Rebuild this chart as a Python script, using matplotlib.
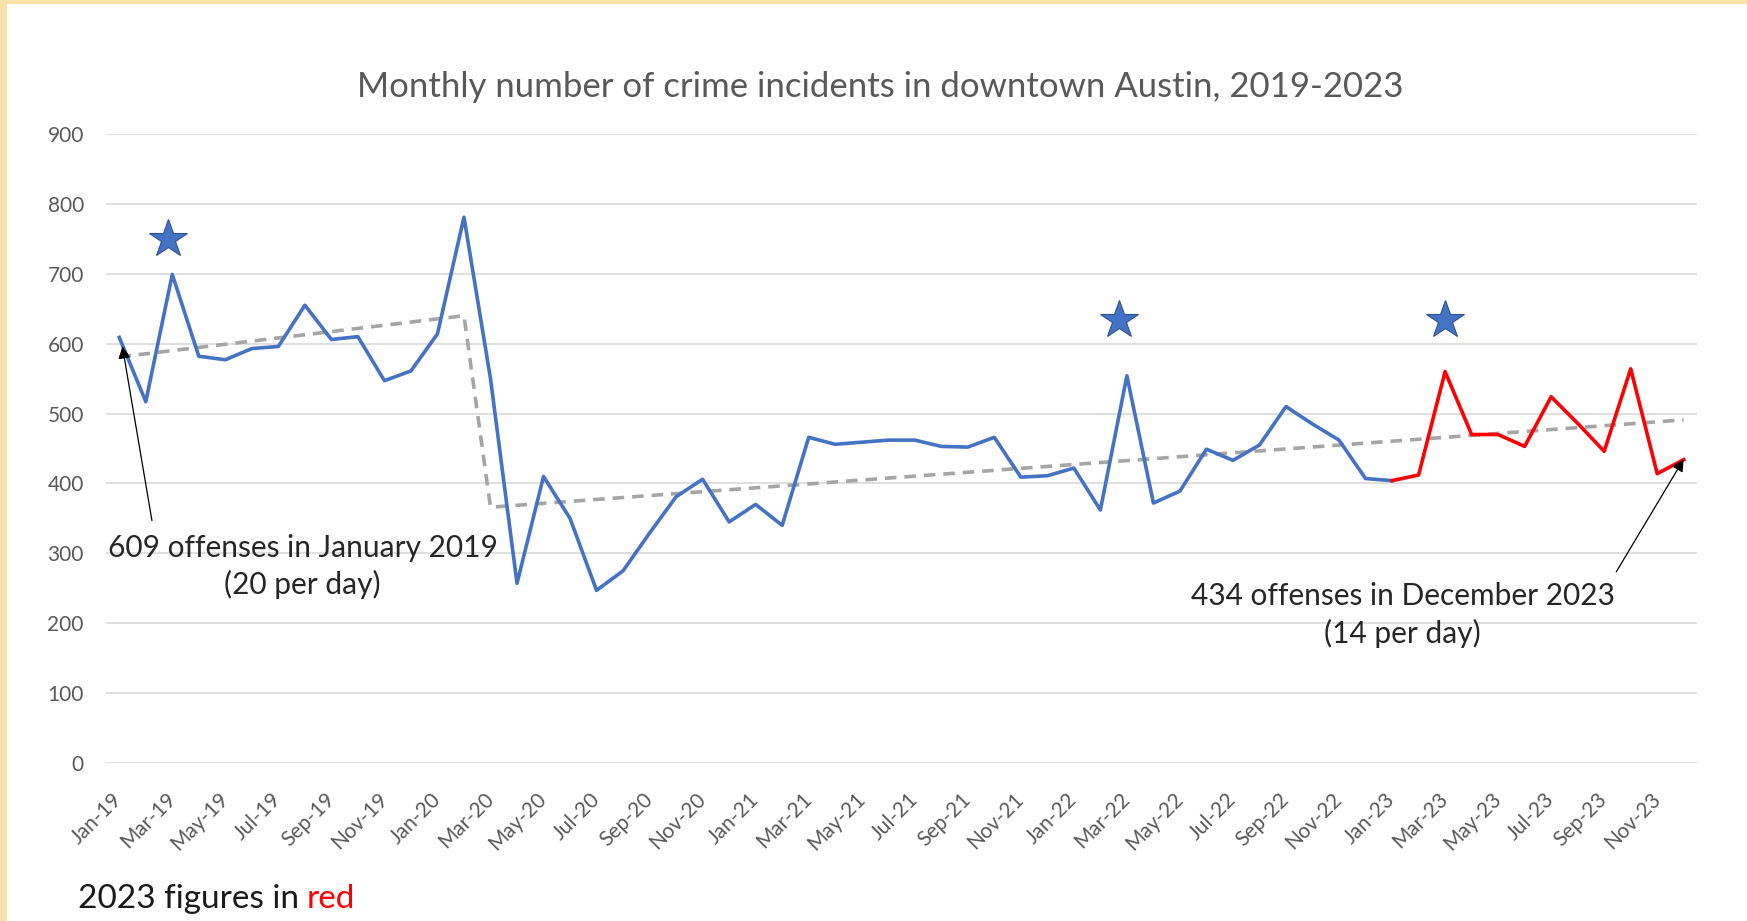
import numpy as np
import matplotlib.pyplot as plt

plt.rcParams['font.family'] = ['Lato', 'DejaVu Sans']

# monthly incident counts, Jan-2019 .. Dec-2023
counts = [609, 517, 699, 582, 577, 593, 596, 655, 606, 610, 547, 561,
          614, 781, 550, 257, 410, 350, 247, 275, 329, 381, 406, 345,
          370, 340, 466, 456, 459, 462, 462, 453, 452, 466, 409, 411,
          422, 362, 554, 372, 389, 449, 433, 455, 510, 485, 462, 407,
          404, 412, 560, 470, 470, 453, 524, 486, 446, 564, 414, 434]

months = ['Jan', 'Feb', 'Mar', 'Apr', 'May', 'Jun',
          'Jul', 'Aug', 'Sep', 'Oct', 'Nov', 'Dec']
years = ['19', '20', '21', '22', '23']
labels = [f"{m}-{y}" for y in years for m in months]

# piecewise trend line (index, value)
trend_x = [0, 13, 14, 59]
trend_y = [581, 640, 366, 491]

# stars
star_x = [1.85, 37.7, 50.0]
star_y = [750, 634, 634]

blue = '#4472C4'
red = '#FF0000'
grey_txt = '#595959'
frame = '#F8E2A8'

x = np.arange(len(counts))
red_start = 48

fig = plt.figure(figsize=(17.47, 9.21), dpi=100)
fig.patch.set_facecolor('white')
# yellow frame strips (left and top)
fig.add_artist(plt.Rectangle((0, 0), 7 / 1747, 1, transform=fig.transFigure,
                             facecolor=frame, edgecolor='none'))
fig.add_artist(plt.Rectangle((0, 1 - 4 / 921), 1, 4 / 921, transform=fig.transFigure,
                             facecolor=frame, edgecolor='none'))

ax = fig.add_axes([106 / 1747, 1 - 763 / 921, 1591 / 1747, 629 / 921])
ax.set_facecolor('none')

ax.plot(trend_x, trend_y, color='#A5A5A5', lw=2.6, ls=(0, (3.2, 2.2)), zorder=2)
ax.plot(x[:red_start + 1], counts[:red_start + 1], color=blue, lw=2.6, zorder=3)
ax.plot(x[red_start:], counts[red_start:], color=red, lw=2.6, zorder=3)
ax.plot(star_x, star_y, ls='none', marker='*', ms=29, color=blue,
        markeredgecolor='#2F528F', markeredgewidth=0.8, zorder=4)

ax.set_xlim(-0.5, len(counts) - 0.5)
ax.set_ylim(0, 900)
ax.set_yticks(range(0, 901, 100))
ax.yaxis.grid(True, color='#D9D9D9', lw=1.2)
ax.set_axisbelow(True)
for s in ax.spines.values():
    s.set_visible(False)

ax.set_xticks(x[::2])
ax.set_xticklabels(labels[::2], rotation=45, ha='right', va='center',
                   rotation_mode='anchor', fontsize=15, color=grey_txt)
ax.tick_params(axis='x', length=0, pad=24)
ax.tick_params(axis='y', length=0, pad=16, labelsize=15, labelcolor=grey_txt)

fig.text(880 / 1747, 1 - 87 / 921,
         'Monthly number of crime incidents in downtown Austin, 2019-2023',
         ha='center', va='center', fontsize=25, color=grey_txt)

ax.annotate('', xy=(0.1, 600), xytext=(1.25, 343),
            arrowprops=dict(arrowstyle='-|>', color='black', lw=0.9,
                            mutation_scale=18))
ax.text(6.92, 281, '609 offenses in January 2019\n(20 per day)',
        ha='center', va='center', fontsize=21.5, color='#262626',
        linespacing=1.35)

ax.annotate('', xy=(59.05, 438), xytext=(56.4, 270),
            arrowprops=dict(arrowstyle='-|>', color='black', lw=0.9,
                            mutation_scale=18))
ax.text(48.4, 212, '434 offenses in December 2023\n(14 per day)',
        ha='center', va='center', fontsize=21.5, color='#262626',
        linespacing=1.35)

t = fig.text(78 / 1747, 1 - 908 / 921, '2023 figures in', ha='left',
             va='baseline', fontsize=24, color='#1a1a1a')
fig.canvas.draw()
bb = t.get_window_extent()
fig.text((bb.x1 + 8) / fig.bbox.width, 1 - 908 / 921, 'red', ha='left',
         va='baseline', fontsize=24, color=red)

fig.savefig('out.png', dpi=100)
